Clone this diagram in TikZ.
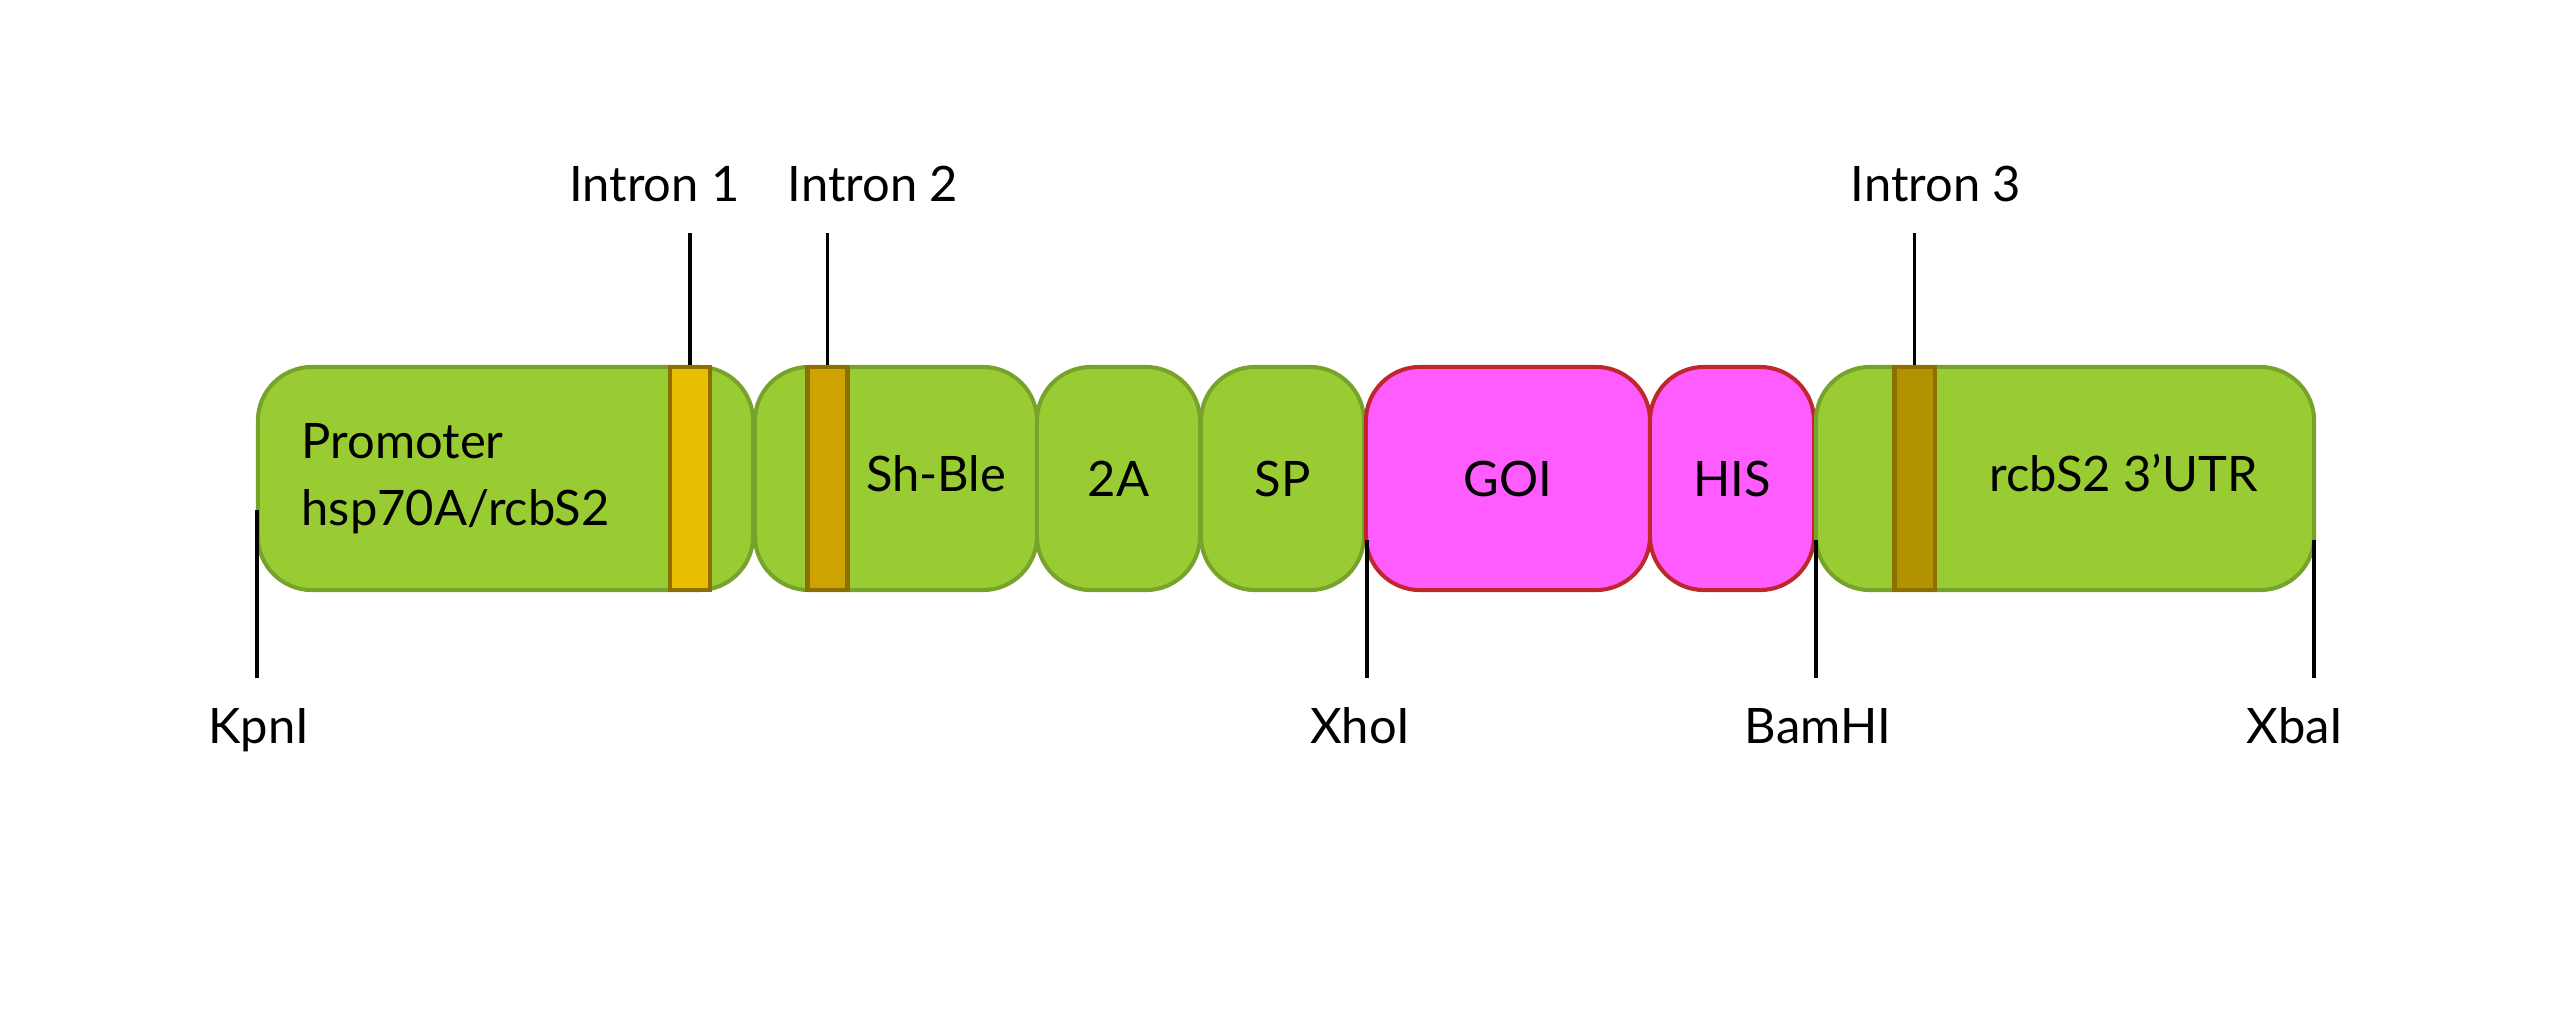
\documentclass[tikz,border=0pt]{standalone}
\usepackage{fontspec}
\setmainfont{Lato}
\usepackage{tikz}
\usetikzlibrary{positioning}
\definecolor{leafgreen}{HTML}{99CC33}
\definecolor{leafline}{HTML}{77A22B}
\definecolor{goipink}{HTML}{FF5CFF}
\definecolor{goiline}{HTML}{C0272D}
\definecolor{introna}{HTML}{E8BE00}
\definecolor{intronb}{HTML}{CCA300}
\definecolor{intronc}{HTML}{B39200}
\definecolor{intronline}{HTML}{8B7000}

\begin{document}
\begin{tikzpicture}[x=0.01cm,y=-0.01cm,
  every node/.style={font=\fontsize{13.9}{19}\selectfont},
  seg/.style={draw=leafline, fill=leafgreen, line width=1.15pt, rounded corners=0.54cm,
    minimum height=2.23cm, inner sep=0pt},
  ins/.style={seg, draw=goiline, fill=goipink},
  intron/.style={draw=intronline, line width=1.15pt, minimum height=2.23cm,
    minimum width=0.40cm, inner sep=0pt},
  tick/.style={line width=1pt},
  lab/.style={anchor=base, inner sep=0pt}]
\useasboundingbox (0,0) rectangle (2556,1008);

\node[seg, minimum width=4.95cm] (prom) at (505.5,478.5) {};
\node[seg, minimum width=2.82cm] (shble) at (896,478.5) {};
\node[seg, minimum width=1.63cm] (twoa) at (1118.5,478.5) {2A};
\node[seg, minimum width=1.63cm] (sp) at (1282.5,478.5) {SP};
\node[ins, minimum width=2.84cm] (goi) at (1508,478.5) {GOI};
\node[ins, minimum width=1.64cm] (his) at (1732,478.5) {HIS};
\node[seg, minimum width=4.98cm] (utr) at (2065,478.5) {};

\node[intron, fill=introna] (intA) at (690,478.5) {};
\node[intron, fill=intronb] (intB) at (827.5,478.5) {};
\node[intron, fill=intronc] (intC) at (1914.5,478.5) {};

\node[align=left, anchor=north west, inner sep=0pt] (promlab) at (301,423) {Promoter\\hsp70A/rcbS2};
\node[lab] (shblelab) at (936,491.7) {Sh-Ble};
\node[lab] (utrlab) at (2123.5,491.7) {rcbS2 3’UTR};

\node[lab] (labA) at (654.5,201.7) {Intron 1};
\node[lab] (labB) at (873,201.7) {Intron 2};
\node[lab] (labC) at (1936,201.7) {Intron 3};
\coordinate (tipA) at (690,233);
\coordinate (tipB) at (827.5,233);
\coordinate (tipC) at (1914.5,233);
\draw[tick] (tipA) -- (intA.north);
\draw[tick] (tipB) -- (intB.north);
\draw[tick] (tipC) -- (intC.north);

\coordinate (kpnA) at (257,510);
\coordinate (kpnB) at (257,678);
\coordinate (xhoA) at (1367,540);
\coordinate (xhoB) at (1367,678);
\coordinate (bamA) at (1816,540);
\coordinate (bamB) at (1816,678);
\coordinate (xbaA) at (2314,540);
\coordinate (xbaB) at (2314,678);
\draw[tick] (kpnA) -- (kpnB);
\draw[tick] (xhoA) -- (xhoB);
\draw[tick] (bamA) -- (bamB);
\draw[tick] (xbaA) -- (xbaB);
\node[lab] (kpn) at (258.5,743) {KpnI};
\node[lab] (xho) at (1360,743) {XhoI};
\node[lab] (bam) at (1818,743) {BamHI};
\node[lab] (xba) at (2295,743) {XbaI};
\end{tikzpicture}
\end{document}
